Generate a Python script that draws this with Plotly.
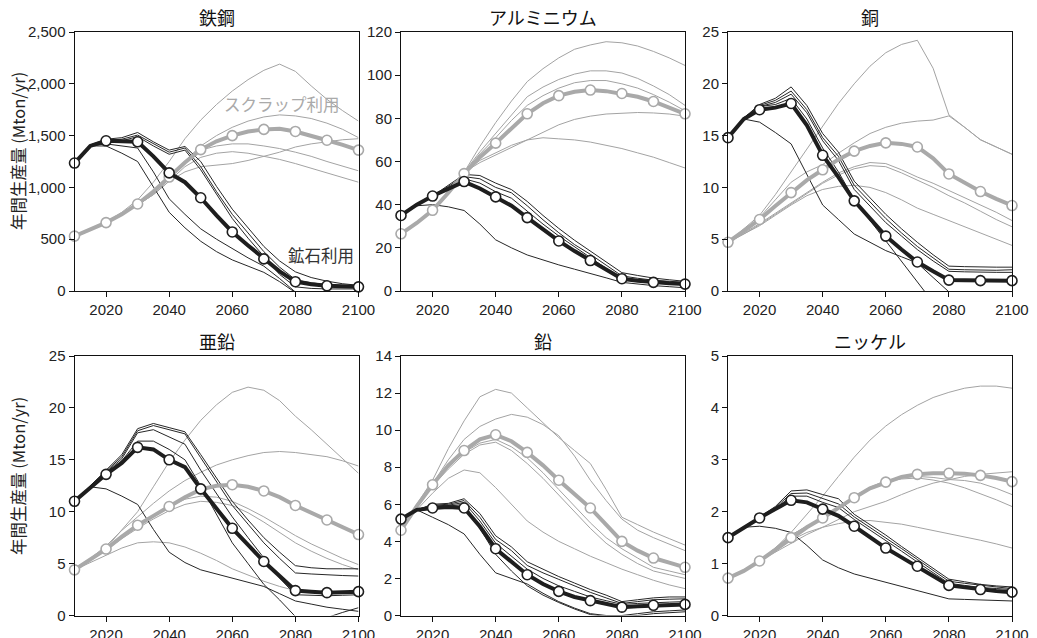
import plotly.graph_objects as go

YEARS = list(range(2010, 2101, 5))
DECADES = YEARS[::2]
X_TICKS = [2020, 2040, 2060, 2080, 2100]

TITLES = ["鉄鋼", "アルミニウム", "銅", "亜鉛", "鉛", "ニッケル"]
Y_TITLE = "年間生産量 (Mton/yr)"
LABEL_SCRAP = "スクラップ利用"
LABEL_ORE = "鉱石利用"

# ---------- 鉄鋼 ----------
steel_ore_main = [1235, 1400, 1450, 1445, 1440, 1300, 1140, 1050, 900, 730, 570, 440, 310, 190, 90, 65, 50, 45, 40]
steel_scrap_main = [530, 590, 660, 740, 840, 960, 1100, 1240, 1365, 1445, 1500, 1540, 1560, 1565, 1540, 1500, 1455, 1410, 1360]
steel_ore_scen = [
    [1235, 1410, 1465, 1480, 1530, 1440, 1360, 1395, 1250, 1010, 790, 610, 430, 290, 185, 130, 95, 70, 55],
    [1235, 1405, 1455, 1465, 1505, 1420, 1340, 1380, 1200, 960, 740, 560, 380, 230, 110, 80, 60, 50, 45],
    [1235, 1400, 1445, 1450, 1490, 1400, 1320, 1360, 1170, 930, 700, 510, 330, 160, 40, 25, 20, 20, 20],
    [1235, 1400, 1420, 1400, 1380, 1150, 890, 740, 600, 500, 410, 320, 240, 120, -10, -100, -200, -300, -400],
    [1235, 1400, 1400, 1330, 1250, 1000, 760, 610, 480, 380, 300, 240, 180, 90, -20, -120, -220, -320, -420],
]
steel_scrap_scen = [
    [530, 595, 665, 760, 880, 1050, 1250, 1470, 1650, 1800, 1930, 2040, 2130, 2190, 2120, 1980, 1850, 1740, 1640],
    [530, 590, 660, 745, 850, 970, 1110, 1260, 1400, 1500, 1580, 1640, 1680, 1700, 1690, 1665, 1620, 1560, 1480],
    [530, 590, 660, 740, 830, 930, 1060, 1150, 1200, 1215, 1230, 1260, 1300, 1340, 1390, 1420, 1440, 1460, 1470],
    [530, 590, 660, 740, 830, 940, 1080, 1230, 1360, 1400, 1420, 1420, 1400, 1375, 1340, 1300, 1250, 1205, 1160],
    [530, 590, 660, 740, 830, 930, 1060, 1200, 1290, 1330, 1345, 1330, 1300, 1270, 1230, 1185, 1140, 1095, 1050],
]

# ---------- アルミニウム ----------
alu_ore_main = [35, 40, 44, 47.5, 50.7, 47.5, 43.6, 39.5, 34, 28.5, 23.2, 18.5, 14.1, 9.8, 5.7, 4.8, 4.0, 3.6, 3.2]
alu_scrap_main = [26.5, 31.5, 37.4, 45.5, 54.4, 62, 68.5, 75.5, 82.1, 87, 90.5, 92.3, 93.1, 92.6, 91.5, 90, 87.8, 85, 82.1]
alu_ore_scen = [
    [35, 40, 44, 49, 54, 53.5, 50, 47, 41.5, 35, 29, 23.5, 18.5, 13.5, 8.5, 7.2, 6, 5.2, 4.5],
    [35, 40, 44, 48.5, 53, 52, 48, 45.5, 39.5, 33, 27, 21.5, 17, 12, 7, 5.9, 5, 4.5, 4],
    [35, 40, 44, 48, 52, 50, 46, 43, 37, 31, 25.5, 20.5, 15.5, 10.5, 6, 5.2, 4.5, 4, 3.5],
    [35, 39.5, 40, 39, 37.3, 31, 23.7, 20, 16.7, 14.3, 12.1, 10.1, 8.2, 6.1, 4, 3.2, 2.5, 2, 1.5],
]
alu_scrap_scen = [
    [26.5, 31.5, 37.5, 46, 55, 67, 78, 88, 97, 103, 108, 112, 114, 115.5, 115, 113.5, 111, 108, 104.5],
    [26.5, 31.5, 37.5, 46, 55, 64.5, 73, 82, 90, 94.5, 98, 100.5, 102, 102, 101, 98.5, 95, 91, 86],
    [26.5, 31.5, 37.5, 46, 55, 63.5, 71, 79, 86, 90.5, 94, 96.5, 97.5, 97.5, 96, 94, 91, 87.5, 83.5],
    [26.5, 31.5, 37.5, 46, 55, 59.5, 63, 66.5, 70, 73.5, 77, 79.5, 81, 82, 82.5, 82.7, 82.5, 82, 81],
    [26.5, 31.5, 37.5, 46, 55, 60.5, 64, 67.5, 70, 71, 70.5, 70, 69, 67.5, 66, 64, 62, 59.5, 57],
]

# ---------- 銅 ----------
cu_ore_main = [14.8, 16.6, 17.5, 17.7, 18.1, 16.0, 13.1, 11.0, 8.7, 7.0, 5.3, 4.0, 2.8, 1.9, 1.05, 1.03, 1.0, 1.0, 1.0]
cu_scrap_main = [4.7, 5.8, 6.9, 8.2, 9.5, 10.7, 11.7, 12.7, 13.5, 14.0, 14.3, 14.2, 13.9, 12.8, 11.3, 10.4, 9.6, 8.9, 8.25]
cu_ore_scen = [
    [14.8, 16.7, 18.0, 18.6, 19.7, 17.9, 15.2, 13.4, 10.6, 9.0, 7.4, 6.0, 4.7, 3.5, 2.4, 2.35, 2.3, 2.3, 2.3],
    [14.8, 16.7, 17.9, 18.4, 19.3, 17.5, 14.8, 13.0, 10.2, 8.6, 7.0, 5.6, 4.3, 3.2, 2.1, 2.05, 2.0, 2.0, 2.05],
    [14.8, 16.7, 17.8, 18.2, 19.0, 17.2, 14.5, 12.6, 9.8, 8.2, 6.6, 5.3, 4.0, 2.9, 1.9, 1.85, 1.8, 1.8, 1.8],
    [14.8, 16.7, 17.8, 18.0, 18.6, 16.6, 13.8, 11.5, 8.8, 6.8, 4.8, 2.8, 0.8, -1.2, -3.2, -5, -7, -9, -11],
    [14.8, 16.6, 16.3, 15.3, 14.2, 11.2, 8.3, 6.9, 5.5, 4.7, 3.9, 3.3, 2.7, 1.3, -0.05, -1.4, -2.8, -4.2, -5.6],
]
cu_scrap_scen = [
    [4.7, 6.0, 7.3, 9.3, 11.5, 13.8, 16.0, 18.1, 20.0, 21.7, 23.0, 23.8, 24.2, 21.5, 17.0, 15.8, 14.6, 13.9, 13.2],
    [4.7, 5.9, 7.1, 8.8, 10.5, 11.5, 12.2, 13.3, 14.3, 15.2, 15.8, 16.2, 16.4, 16.5, 16.9, 15.8, 14.6, 13.9, 13.2],
    [4.7, 5.6, 6.5, 7.5, 8.5, 9.5, 10.5, 11.4, 12.0, 12.4, 12.3, 11.7, 11.0, 10.4, 9.7, 9.0, 8.3, 7.6, 6.8],
    [4.7, 5.5, 6.4, 7.4, 8.4, 9.4, 10.4, 11.2, 11.8, 12.1, 12.0, 11.4, 10.7, 10.0, 9.2, 8.5, 7.7, 6.9, 6.2],
    [4.7, 5.5, 6.3, 7.3, 8.3, 9.2, 9.8, 10.1, 10.2, 10.0, 9.5, 8.8, 8.0, 7.4, 6.8, 6.2, 5.6, 5.0, 4.4],
]

# ---------- 亜鉛 ----------
zn_ore_main = [11.0, 12.3, 13.6, 14.7, 16.2, 16.0, 15.0, 14.3, 12.2, 10.3, 8.4, 6.8, 5.2, 3.8, 2.4, 2.3, 2.2, 2.25, 2.3]
zn_scrap_main = [4.4, 5.4, 6.4, 7.6, 8.7, 9.6, 10.5, 11.4, 12.15, 12.5, 12.6, 12.4, 12.0, 11.4, 10.6, 9.9, 9.2, 8.5, 7.8]
zn_ore_scen = [
    [11, 12.5, 14.0, 15.5, 18.0, 18.5, 18.1, 17.7, 15.5, 13.2, 11.0, 9.2, 7.5, 6.1, 4.8, 4.6, 4.5, 4.5, 4.5],
    [11, 12.5, 13.9, 15.3, 17.8, 18.3, 17.9, 17.5, 15.2, 12.9, 10.6, 8.8, 7.0, 5.5, 4.1, 4.0, 3.9, 3.85, 3.8],
    [11, 12.4, 13.8, 15.1, 17.6, 17.9, 17.2, 16.5, 14.0, 11.7, 9.5, 7.5, 5.5, 3.6, 2.0, 1.95, 1.9, 1.95, 2.0],
    [11, 12.3, 13.7, 14.9, 16.8, 16.8, 16.0, 15.0, 12.5, 9.7, 7.0, 5.0, 3.0, 1.5, -0.1, -0.4, -0.2, 0.3, 0.75],
    [11, 12.4, 12.2, 11.5, 10.7, 8.3, 6.1, 5.1, 4.4, 4.0, 3.6, 3.2, 2.8, 2.1, 1.4, 1.1, 0.8, 0.6, 0.4],
]
zn_scrap_scen = [
    [4.4, 5.4, 6.5, 8.2, 10.0, 12.4, 14.8, 16.9, 18.8, 20.3, 21.5, 22.0, 21.7, 20.7, 19.2, 17.9, 16.5, 15.1, 13.7],
    [4.4, 5.5, 6.7, 8.2, 9.5, 10.8, 12.0, 13.0, 13.8, 14.5, 15.0, 15.4, 15.7, 15.8, 15.7, 15.5, 15.3, 14.9, 14.4],
    [4.4, 5.4, 6.4, 7.5, 8.6, 9.6, 10.5, 11.2, 11.5, 11.4, 11.0, 10.3, 9.5, 8.6, 7.7, 6.9, 6.2, 5.5, 4.9],
    [4.4, 5.4, 6.3, 7.4, 8.4, 9.3, 10.1, 10.7, 11.0, 10.9, 10.6, 9.9, 9.0, 8.0, 7.0, 6.2, 5.5, 4.9, 4.4],
    [4.4, 5.1, 5.8, 6.5, 7.0, 7.1, 7.0, 6.6, 6.0, 5.3, 4.5, 3.9, 3.3, 2.8, 2.4, 2.3, 2.2, 2.15, 2.1],
]

# ---------- 鉛 ----------
pb_ore_main = [5.2, 5.7, 5.8, 5.85, 5.8, 4.8, 3.6, 2.9, 2.2, 1.7, 1.3, 1.0, 0.8, 0.6, 0.45, 0.5, 0.55, 0.58, 0.6]
pb_scrap_main = [4.6, 5.9, 7.05, 8.1, 8.9, 9.5, 9.75, 9.4, 8.8, 8.1, 7.3, 6.55, 5.8, 4.9, 4.0, 3.5, 3.1, 2.85, 2.6]
pb_ore_scen = [
    [5.2, 5.7, 6.0, 6.05, 6.3, 5.5, 4.3, 3.7, 2.9, 2.5, 2.1, 1.75, 1.4, 1.1, 0.75, 0.85, 0.95, 1.0, 1.0],
    [5.2, 5.7, 5.95, 6.0, 6.2, 5.3, 4.1, 3.5, 2.7, 2.3, 1.95, 1.6, 1.25, 0.95, 0.65, 0.75, 0.85, 0.88, 0.9],
    [5.2, 5.7, 5.9, 5.95, 6.1, 5.1, 3.9, 3.2, 2.5, 2.0, 1.6, 1.3, 1.0, 0.8, 0.6, 0.65, 0.7, 0.72, 0.75],
    [5.2, 5.7, 5.85, 5.9, 6.0, 4.7, 3.3, 2.4, 1.6, 1.1, 0.7, 0.35, 0.05, -0.05, -0.05, 0.0, 0.1, 0.15, 0.2],
    [5.2, 5.7, 5.3, 4.9, 4.4, 3.3, 2.3, 2.0, 1.7, 1.2, 0.75, 0.4, 0.1, 0.0, 0.0, 0.1, 0.2, 0.25, 0.3],
]
pb_scrap_scen = [
    [4.6, 6.0, 7.3, 9.0, 10.5, 11.8, 12.2, 12.0, 11.2, 10.4, 9.6, 8.9, 8.2, 6.8, 5.3, 4.9, 4.5, 4.15, 3.8],
    [4.6, 5.9, 7.1, 8.4, 9.5, 10.2, 10.6, 10.85, 10.7, 10.3, 9.7, 8.6, 7.3, 6.2, 5.2, 4.6, 4.2, 3.85, 3.5],
    [4.6, 5.9, 7.0, 8.0, 8.8, 9.3, 9.5, 9.1, 8.5, 7.7, 6.8, 5.9, 5.0, 4.2, 3.6, 3.1, 2.6, 2.4, 2.2],
    [4.6, 5.9, 7.0, 7.9, 8.7, 9.2, 9.35, 8.9, 8.2, 7.4, 6.5, 5.6, 4.7, 3.9, 3.3, 2.8, 2.4, 2.2, 2.0],
    [4.6, 5.7, 6.6, 7.4, 7.85, 7.7, 6.9, 6.0, 5.1, 4.5, 4.0, 3.6, 3.2, 2.85, 2.5, 2.2, 1.9, 1.65, 1.45],
]

# ---------- ニッケル ----------
ni_ore_main = [1.5, 1.7, 1.88, 2.05, 2.22, 2.18, 2.05, 1.92, 1.72, 1.5, 1.3, 1.12, 0.95, 0.76, 0.58, 0.54, 0.5, 0.47, 0.45]
ni_scrap_main = [0.72, 0.86, 1.05, 1.27, 1.5, 1.7, 1.88, 2.08, 2.27, 2.45, 2.57, 2.67, 2.72, 2.74, 2.74, 2.73, 2.7, 2.65, 2.58]
ni_ore_scen = [
    [1.5, 1.7, 1.9, 2.1, 2.4, 2.42, 2.33, 2.25, 1.95, 1.75, 1.55, 1.33, 1.12, 0.9, 0.7, 0.65, 0.6, 0.57, 0.55],
    [1.5, 1.7, 1.89, 2.08, 2.35, 2.36, 2.25, 2.15, 1.9, 1.7, 1.5, 1.29, 1.08, 0.87, 0.66, 0.62, 0.58, 0.55, 0.52],
    [1.5, 1.7, 1.88, 2.06, 2.3, 2.3, 2.18, 2.08, 1.85, 1.65, 1.45, 1.24, 1.03, 0.82, 0.62, 0.58, 0.54, 0.52, 0.5],
    [1.5, 1.7, 1.72, 1.68, 1.6, 1.35, 1.07, 0.92, 0.8, 0.72, 0.63, 0.55, 0.47, 0.4, 0.32, 0.31, 0.3, 0.29, 0.28],
]
ni_scrap_scen = [
    [0.72, 0.86, 1.05, 1.3, 1.6, 1.95, 2.3, 2.68, 3.05, 3.38, 3.65, 3.87, 4.05, 4.2, 4.3, 4.38, 4.42, 4.42, 4.38],
    [0.72, 0.86, 1.05, 1.3, 1.55, 1.72, 1.85, 2.08, 2.3, 2.47, 2.6, 2.66, 2.68, 2.66, 2.62, 2.6, 2.55, 2.45, 2.33],
    [0.72, 0.86, 1.05, 1.22, 1.4, 1.56, 1.7, 1.85, 2.0, 2.1, 2.2, 2.33, 2.45, 2.55, 2.62, 2.68, 2.72, 2.75, 2.77],
    [0.72, 0.86, 1.05, 1.3, 1.55, 1.72, 1.85, 2.07, 2.28, 2.45, 2.58, 2.63, 2.65, 2.61, 2.55, 2.46, 2.35, 2.23, 2.1],
    [0.72, 0.86, 1.05, 1.25, 1.45, 1.6, 1.7, 1.77, 1.82, 1.83, 1.8, 1.76, 1.7, 1.64, 1.58, 1.52, 1.45, 1.38, 1.3],
]

Y_MAX = [2500, 120, 25, 25, 14, 5]
Y_DTICK = [500, 20, 5, 5, 2, 1]

PANEL_DATA = [
    (steel_ore_main, steel_scrap_main, steel_ore_scen, steel_scrap_scen),
    (alu_ore_main, alu_scrap_main, alu_ore_scen, alu_scrap_scen),
    (cu_ore_main, cu_scrap_main, cu_ore_scen, cu_scrap_scen),
    (zn_ore_main, zn_scrap_main, zn_ore_scen, zn_scrap_scen),
    (pb_ore_main, pb_scrap_main, pb_ore_scen, pb_scrap_scen),
    (ni_ore_main, ni_scrap_main, ni_ore_scen, ni_scrap_scen),
]

# ---------- styling / layout ----------
W, H = 1037, 638
X_DOM = [(74.5 / W, 358.5 / W), (401 / W, 685 / W), (728 / W, 1012 / W)]
Y_DOM = [(1 - 291 / H, 1 - 32 / H), (1 - 615.5 / H, 1 - 356 / H)]

BLACK = "#1e1e1e"
GRAY = "#a9a9a9"
THIN_GRAY = "#a3a3a3"
THIN_BLACK = "#262626"
TICK_FONT = dict(family="Liberation Sans, Arial, sans-serif", size=15, color="#222")
JP_FONT = "Noto Sans CJK JP"

fig = go.Figure()

for i, (ore_main, scrap_main, ore_scen, scrap_scen) in enumerate(PANEL_DATA):
    n = i + 1
    xa = "x" if n == 1 else f"x{n}"
    ya = "y" if n == 1 else f"y{n}"
    for s in scrap_scen:
        fig.add_trace(go.Scatter(x=YEARS, y=s, mode="lines", xaxis=xa, yaxis=ya,
                                 line=dict(color=THIN_GRAY, width=1), showlegend=False, hoverinfo="skip"))
    for s in ore_scen:
        fig.add_trace(go.Scatter(x=YEARS, y=s, mode="lines", xaxis=xa, yaxis=ya,
                                 line=dict(color=THIN_BLACK, width=1), showlegend=False, hoverinfo="skip"))
    for main, col in ((scrap_main, GRAY), (ore_main, BLACK)):
        fig.add_trace(go.Scatter(x=YEARS, y=main, mode="lines", xaxis=xa, yaxis=ya,
                                 line=dict(color=col, width=4), showlegend=False))
        fig.add_trace(go.Scatter(x=DECADES, y=main[::2], mode="markers", xaxis=xa, yaxis=ya,
                                 cliponaxis=False,
                                 marker=dict(size=10, color="white", line=dict(color=col, width=1.6)),
                                 showlegend=False))

    r, c = divmod(i, 3)
    axis_common = dict(showline=True, linecolor="#111", linewidth=1, mirror=True,
                       ticks="outside", ticklen=5, tickcolor="#111", tickwidth=1,
                       showgrid=False, zeroline=False, tickfont=TICK_FONT, automargin=False)
    fig.update_layout(**{
        ("xaxis" if n == 1 else f"xaxis{n}"): dict(
            domain=list(X_DOM[c]), range=[2010, 2100], anchor=ya,
            tickvals=X_TICKS, **axis_common),
        ("yaxis" if n == 1 else f"yaxis{n}"): dict(
            domain=list(Y_DOM[r]), range=[0, Y_MAX[i]], anchor=xa,
            dtick=Y_DTICK[i], tick0=0, tickformat=",", **axis_common),
    })
    # subplot title
    fig.add_annotation(text=TITLES[i], xref="paper", yref="paper",
                       x=(X_DOM[c][0] + X_DOM[c][1]) / 2,
                       y=Y_DOM[r][1] + 15 / H, xanchor="center", yanchor="middle",
                       showarrow=False, font=dict(family=JP_FONT, size=18, color="#111"))

# y-axis titles
for r, ymid in enumerate([151, 476]):
    fig.add_annotation(text=Y_TITLE, xref="paper", yref="paper", x=18 / W, y=1 - ymid / H,
                       xanchor="center", yanchor="middle", textangle=-90, showarrow=False,
                       font=dict(family=JP_FONT, size=16.5, color="#222"))

# in-panel labels (steel)
fig.add_annotation(text=LABEL_SCRAP, xref="x", yref="y", x=2075.7, y=1805,
                   showarrow=False, xanchor="center", yanchor="middle",
                   font=dict(family=JP_FONT, size=16.5, color="#aaaaaa"))
fig.add_annotation(text=LABEL_ORE, xref="x", yref="y", x=2088, y=350,
                   showarrow=False, xanchor="center", yanchor="middle",
                   font=dict(family=JP_FONT, size=16.5, color="#333333"))

fig.update_layout(width=W, height=H, margin=dict(l=0, r=0, t=0, b=0),
                  paper_bgcolor="white", plot_bgcolor="white", showlegend=False)

fig.write_html("out.html", config={"displayModeBar": False},
               post_script="document.body.style.margin='0px';document.body.style.overflow='hidden';")
